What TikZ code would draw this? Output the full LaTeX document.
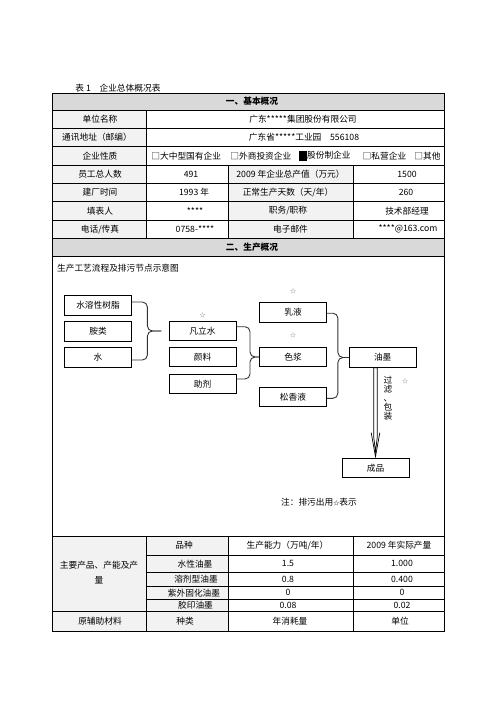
\documentclass[tikz,border=0pt]{standalone}
\usepackage{fontspec}
\setmainfont{Noto Sans CJK SC}
\usetikzlibrary{calc}

\tikzset{every picture/.style={line width=0.8pt}}
\tikzset{
  flowbox/.style={draw,minimum width=67pt,minimum height=19.5pt,inner sep=0pt},
  brace/.style={draw=black!80,line width=0.9pt,rounded corners=5pt},
  starmark/.style={font=\fontsize{6}{6}\selectfont,text=black!55,fill=white,inner sep=0.6pt,minimum width=23pt,text height=4.5pt,text depth=#1,anchor=south},
  headfill/.style={fill=black!15},
  labelfill/.style={fill=black!5},
}

\begin{document}
\begin{tikzpicture}[x=1pt,y=-1pt,every node/.style={inner sep=0pt,font=\fontsize{8.7}{10}\selectfont}]
\useasboundingbox (0,0) rectangle (496,702);
\node[anchor=west] (caption) at (75,88) {表 1\quad 企业总体概况表}; %表题
% 底色
\fill[headfill] (52.7,93) rectangle (444.3,110);
\fill[headfill] (52.7,238.3) rectangle (444.3,256.7);
\fill[labelfill] (52.7,110) rectangle (146.7,238.3);
\fill[labelfill] (228,165) rectangle (353.3,238.3);
\fill[labelfill] (52.7,536) rectangle (228,631);
% 表格线
\draw (52.7,93) rectangle (444.3,631);
\foreach \y in {110,128.3,146.6,165,183.3,201.6,220,238.3,256.7,536,611.5}
  \draw (52.7,\y) -- (444.3,\y);
\foreach \y in {555,572.5,586.5,599}
  \draw (146.7,\y) -- (444.3,\y);
\draw (146.7,110) -- (146.7,238.3);
\draw (228,165) -- (228,238.3);
\draw (353.3,165) -- (353.3,238.3);
\draw (146.7,536) -- (146.7,631);
\draw (228,536) -- (228,631);
\draw (353.3,536) -- (353.3,631);

% 一、基本概况
\node[font=\fontsize{8.7}{10}\selectfont\bfseries] (head1) at (252,101.5) {一、基本概况};
\node (l-name) at (100,119.2) {单位名称};
\node (v-name) at (303,119.2) {广东*****集团股份有限公司};
\node (l-addr) at (97,137.5) {通讯地址（邮编）};
\node (v-addr) at (304,137.5) {广东省*****工业园\quad 556108};
\node (l-type) at (100,155.8) {企业性质};
\node[anchor=west] (opt1) at (151,155.8) {□大中型国有企业};
\node[anchor=west] (opt2) at (230,155.8) {□外商投资企业};
\node[anchor=west] (opt3) at (299,155.8) {\rule[-2.5pt]{7.7pt}{10pt}股份制企业};
\node[anchor=west] (opt4) at (362.3,155.8) {□私营企业};
\node[anchor=west] (opt5) at (414,155.8) {□其他};
\node (l-staff) at (100,174.2) {员工总人数};
\node (v-staff) at (191,174.2) {491};
\node (l-value) at (290.5,174.2) {2009 年企业总产值（万元）};
\node (v-value) at (407,174.2) {1500};
\node (l-year) at (100,192.5) {建厂时间};
\node (v-year) at (194,192.5) {1993 年};
\node (l-days) at (288,192.5) {正常生产天数（天/年）};
\node (v-days) at (406,192.5) {260};
\node (l-who) at (100,210.8) {填表人};
\node (v-who) at (195,210.8) {****};
\node (l-post) at (288,210.8) {职务/职称};
\node (v-post) at (407,210.8) {技术部经理};
\node (l-tel) at (100,229.2) {电话/传真};
\node (v-tel) at (195,229.2) {0758-****};
\node (l-mail) at (290.5,229.2) {电子邮件};
\node (v-mail) at (408,229.2) {****@163.com};

% 二、生产概况
\node[font=\fontsize{8.7}{10}\selectfont\bfseries] (head2) at (252,247.5) {二、生产概况};
\node[anchor=west] (flowtitle) at (56.7,268.3) {生产工艺流程及排污节点示意图};

\node[flowbox] (resin) at (98,305.5) {水溶性树脂};
\node[flowbox] (amine) at (98,331.3) {胺类};
\node[flowbox] (water) at (98,357.5) {水};
\node[flowbox] (varnish) at (202.5,331) {凡立水};
\node[flowbox] (pigment) at (202.5,357) {颜料};
\node[flowbox] (additive) at (202.5,384) {助剂};
\node[flowbox] (emulsion) at (293,312.2) {乳液};
\node[flowbox] (paste) at (293,357) {色浆};
\node[flowbox] (rosin) at (293,396.7) {松香液};
\node[flowbox] (ink) at (382.7,357.5) {油墨};
\node[flowbox] (product) at (375.5,467.8) {成品};

% 排污点
\node[starmark=2.5pt] (s-varnish) at ($(varnish.north)+(0,0.6)$) {☆};
\node[starmark=8.5pt] (s-emulsion) at ($(emulsion.north)+(0,0.6)$) {☆};
\node[starmark=8.5pt] (s-paste) at ($(paste.north)+(0,0.6)$) {☆};
\node[font=\fontsize{6}{6}\selectfont,text=black!55] (s-pack) at (405,381.7) {☆};

% 括号
\coordinate (tip1) at ($(varnish.west)+(-7.3,0)$);
\draw[brace] ($(resin.east)+(0,-3.5)$) -- ++(15.5,0) |- (tip1);
\draw[brace] ($(water.east)+(0,2.5)$) -- ++(15.5,0) |- (tip1);
\draw[brace] ($(varnish.east)+(0,-4.3)$) -- ++(13.6,0) |- (paste.west);
\draw[brace] ($(additive.east)+(0,-5)$) -- ++(13.6,0) |- (paste.west);
\draw[brace] ($(emulsion.east)+(0,1)$) -- ++(11,0) |- (ink.west);
\draw[brace] ($(rosin.east)+(0,1.6)$) -- ++(11,0) |- (ink.west);

% 油墨 -> 成品
\coordinate (a0) at (product.north |- ink.south);
\draw[line width=0.7pt] ($(a0)+(-1.7,0)$) -- ($(product.north)+(-1.7,-20)$) -- ($(product.north)+(0,-6)$)
  -- ($(product.north)+(1.7,-20)$) -- ($(a0)+(1.7,0)$) -- cycle;
\draw[line width=0.7pt] ($(product.north)+(-4.3,-25)$) -- ($(product.north)+(0,-1)$) -- ($(product.north)+(4.3,-25)$);
\node[align=center,font=\fontsize{8.7}{9.2}\selectfont] (pack) at (388,398.3) {过\\滤\\、\\包\\装};

\node[anchor=west] (note) at (280.7,501.7) {注：排污出用{\fontsize{6}{6}\selectfont ☆}表示};

% 主要产品
\node[align=center,text width=80pt,font=\fontsize{8.7}{15}\selectfont] (l-prod) at (99,572.5) {主要产品、产能及产\\量};
\node (h-kind) at (184,545.5) {品种};
\node (h-cap) at (287.5,545.5) {生产能力（万吨/年）};
\node (h-out) at (399,545.5) {2009 年实际产量};
\node (p1) at (195,563.8) {水性油墨};
\node (p1-cap) at (288,563.8) {1.5};
\node (p1-out) at (402,563.8) {1.000};
\node (p2) at (196,579.5) {溶剂型油墨};
\node (p2-cap) at (288,579.5) {0.8};
\node (p2-out) at (402,579.5) {0.400};
\node (p3) at (194,592.7) {紫外固化油墨};
\node (p3-cap) at (288,592.7) {0};
\node (p3-out) at (402,592.7) {0};
\node (p4) at (195.5,605.3) {胶印油墨};
\node (p4-cap) at (288,605.3) {0.08};
\node (p4-out) at (402,605.3) {0.02};
\node (l-mat) at (100,621.2) {原辅助材料};
\node (m-kind) at (185,621.2) {种类};
\node (m-use) at (290,621.2) {年消耗量};
\node (m-unit) at (400,621.2) {单位};
\end{tikzpicture}
\end{document}
